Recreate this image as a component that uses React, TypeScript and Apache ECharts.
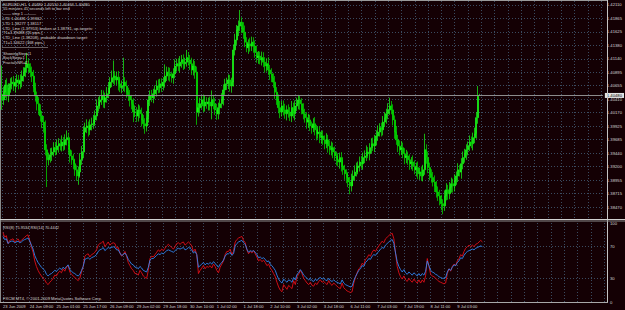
import React, { useEffect, useRef } from 'react';
import * as echarts from 'echarts';

// ---- data (EURUSD H1) ----
const firstOpen = 1.4050;
const closes = [
  1.4040,1.4054,1.4067,1.4047,1.4062,1.4069,1.4072,1.4065,1.4071,1.4076,1.4069,1.4074,1.4083,1.4090,1.4098,1.4105,
  1.4098,1.4090,1.4083,1.4062,1.4047,1.4033,1.4022,1.4011,1.4000,1.3990,1.3950,1.3932,1.3936,1.3941,1.3946,1.3954,
  1.3950,1.3957,1.3961,1.3957,1.3964,1.3959,1.3968,1.3972,1.3950,1.3939,1.3932,1.3925,1.3914,1.3903,1.3910,1.3932,
  1.3946,1.3982,1.3990,1.3993,1.3986,1.3995,1.3997,1.4004,1.4011,1.4029,1.4036,1.4040,1.4047,1.4036,1.4044,1.4051,
  1.4062,1.4072,1.4080,1.4083,1.4076,1.4081,1.4069,1.4062,1.4065,1.4072,1.4065,1.4054,1.4047,1.4040,1.4033,1.4018,
  1.4018,1.4011,1.4022,1.4015,1.4004,1.3997,1.3993,1.4008,1.4040,1.4047,1.4044,1.4051,1.4058,1.4065,1.4062,1.4069,
  1.4065,1.4072,1.4083,1.4090,1.4087,1.4083,1.4080,1.4087,1.4101,1.4105,1.4101,1.4108,1.4112,1.4105,1.4108,1.4116,
  1.4112,1.4105,1.4094,1.4101,1.4090,1.4018,1.4026,1.4033,1.4040,1.4029,1.4036,1.4033,1.4036,1.4029,1.4040,1.4033,
  1.4022,1.4015,1.4026,1.4033,1.4040,1.4058,1.4069,1.4069,1.4076,1.4065,1.4072,1.4130,1.4148,1.4166,1.4173,1.4180,
  1.4170,1.4162,1.4144,1.4134,1.4141,1.4137,1.4144,1.4137,1.4126,1.4116,1.4119,1.4112,1.4116,1.4108,1.4101,1.4105,
  1.4094,1.4087,1.4080,1.4072,1.4054,1.4040,1.4026,1.4018,1.4029,1.4022,1.4015,1.4022,1.4018,1.4011,1.4026,1.4015,
  1.4029,1.4033,1.4040,1.4033,1.4022,1.4015,1.4008,1.4000,1.4004,1.3993,1.3990,1.3997,1.3986,1.3979,1.3982,1.3972,
  1.3975,1.3968,1.3961,1.3968,1.3957,1.3950,1.3954,1.3946,1.3939,1.3932,1.3928,1.3936,1.3921,1.3914,1.3907,1.3900,
  1.3892,1.3885,1.3896,1.3903,1.3910,1.3918,1.3921,1.3928,1.3925,1.3936,1.3939,1.3946,1.3943,1.3954,1.3961,1.3957,
  1.3968,1.3975,1.3982,1.3990,1.3986,1.4000,1.4008,1.4015,1.4022,1.4029,1.4022,1.4004,1.3982,1.3968,1.3957,1.3950,
  1.3954,1.3943,1.3936,1.3939,1.3932,1.3925,1.3928,1.3921,1.3914,1.3918,1.3907,1.3910,1.3903,1.3914,1.3950,1.3936,
  1.3918,1.3907,1.3900,1.3892,1.3885,1.3874,1.3867,1.3860,1.3853,1.3849,1.3867,1.3878,1.3871,1.3882,1.3889,1.3885,
  1.3896,1.3903,1.3914,1.3910,1.3925,1.3936,1.3943,1.3950,1.3957,1.3964,1.3961,1.3972,1.3979,1.4008,1.4048,1.4048,
];
const upperWickPips = [
  52,10,9,12,8,10,9,11,8,10,9,12,10,9,11,20,
  9,8,10,11,9,8,12,10,9,11,13,10,9,12,8,10,
  9,11,10,8,12,9,10,13,9,8,10,11,9,8,10,12,
  11,10,9,12,8,10,11,9,10,12,9,8,11,10,9,12,
  10,9,13,28,9,10,11,9,10,44,9,10,8,11,9,10,
  12,9,10,8,11,9,10,12,9,10,11,9,8,10,12,9,
  10,9,21,10,9,11,8,10,12,9,10,11,9,10,8,14,
  10,9,11,12,9,10,8,11,9,10,12,9,8,10,17,9,
  10,11,9,8,12,10,9,11,10,9,8,10,11,9,10,22,
  9,10,12,9,8,11,10,9,10,12,9,8,11,10,9,10,
  12,9,10,8,11,9,10,12,9,10,11,8,10,9,12,9,
  10,11,9,8,10,12,9,10,11,9,8,10,12,9,10,11,
  9,10,8,12,9,10,11,9,10,8,12,9,10,11,9,8,
  10,9,11,10,12,9,8,10,11,9,10,12,9,8,10,11,
  9,10,12,8,9,11,10,9,12,15,9,10,8,11,9,10,
  12,9,10,11,8,10,9,12,10,9,11,8,10,9,29,10,
  11,9,8,10,12,9,10,11,9,8,10,12,9,10,11,9,
  10,8,12,9,10,11,9,10,8,12,10,9,11,10,17,3,
];
const lowerWickPips = [
  18,9,10,8,11,9,10,9,12,8,10,9,11,10,9,8,
  10,9,11,8,10,12,9,10,11,9,10,49,10,9,11,8,
  10,9,12,8,10,11,9,10,8,12,9,10,11,9,16,10,
  9,11,8,10,12,9,10,9,11,8,10,12,9,10,11,9,
  8,10,9,11,10,9,12,8,10,9,11,10,9,12,10,18,
  9,11,10,8,12,9,14,10,9,11,8,10,9,12,10,9,
  11,8,10,9,12,10,9,11,8,10,9,12,10,11,9,8,
  10,11,9,10,12,23,8,10,9,11,10,9,12,8,24,10,
  9,11,10,12,8,10,9,11,9,10,12,8,10,9,11,9,
  10,12,9,8,11,10,9,12,10,9,11,8,10,9,12,10,
  9,11,8,10,12,9,10,11,8,10,9,12,10,9,11,8,
  12,9,10,11,8,10,9,12,10,9,11,8,10,12,9,10,
  11,9,10,8,12,9,10,11,9,10,8,12,10,9,11,10,
  9,15,10,11,9,8,12,10,9,11,10,9,8,12,10,9,
  11,10,9,8,12,10,9,11,10,9,8,10,12,9,11,10,
  9,8,12,10,9,11,10,9,8,12,10,11,9,10,9,11,
  10,12,9,8,11,10,9,10,12,15,9,8,11,10,9,12,
  10,9,11,8,12,10,9,11,10,9,8,12,10,9,11,1,
];
const rsi8 = [
  88,82,84,74,78,79,80,76,78,80,76,78,80,82,84,85,
  78,70,63,52,45,40,36,33,30,28,24,22,25,27,30,34,
  33,37,39,37,42,39,44,46,38,35,33,31,29,27,30,38,
  45,58,60,61,57,60,61,63,66,72,74,75,77,70,73,76,
  72,74,75,74,68,69,62,58,60,64,58,50,46,42,40,36,
  36,34,40,37,33,31,30,40,55,58,57,60,63,66,64,67,
  65,68,71,73,71,69,67,70,74,75,73,75,76,72,74,76,
  74,71,64,67,60,36,40,43,46,42,45,44,46,43,48,45,
  40,37,44,48,52,60,64,64,67,60,64,76,79,81,82,83,
  78,75,66,61,64,62,65,61,57,52,54,51,53,50,46,48,
  43,40,36,32,25,19,15,13,22,19,16,21,19,17,27,22,
  32,35,40,36,30,27,24,22,25,21,20,24,22,26,28,25,
  26,24,22,27,23,21,24,22,20,18,17,24,18,16,14,13,
  12,13,24,31,37,42,44,49,47,54,56,60,58,63,66,64,
  68,71,74,77,75,80,82,84,86,87,80,62,45,37,32,29,
  33,28,26,30,27,25,29,26,24,28,24,28,25,33,55,45,
  35,33,32,30,28,26,25,24,23,24,36,42,39,45,48,46,
  52,55,60,58,64,68,70,72,70,72,70,73,74,76,78,76,
];
const rsi14 = [
  83,79,80,74,76,77,77,75,76,77,75,76,78,79,80,81,
  77,72,67,59,54,50,47,44,42,40,35,33,35,36,38,40,
  39,41,43,41,44,42,45,47,41,39,37,36,34,33,35,40,
  45,54,55,56,54,56,57,58,60,64,66,67,69,65,67,69,
  68,69,70,69,66,66,62,59,60,62,59,54,51,48,47,44,
  44,42,45,43,40,39,38,44,53,55,55,57,59,61,60,62,
  61,63,65,66,65,64,63,65,67,68,67,68,69,66,67,69,
  68,66,62,64,60,44,46,48,50,47,49,48,50,48,51,49,
  46,44,48,50,53,58,61,61,63,59,61,71,74,76,77,78,
  75,73,67,63,65,64,65,63,60,56,57,55,56,54,51,52,
  48,46,43,40,34,29,26,24,29,27,25,28,27,25,31,28,
  35,37,41,38,34,32,30,28,30,27,26,29,27,30,31,29,
  30,28,27,30,27,26,28,26,25,24,23,28,24,22,21,20,
  19,20,27,32,36,40,42,46,45,50,52,55,54,58,60,59,
  62,64,67,69,68,72,74,76,78,79,74,62,51,45,41,38,
  41,37,35,38,36,34,37,35,33,36,33,36,34,39,52,46,
  40,38,37,35,34,32,31,30,30,31,38,42,40,44,47,46,
  50,52,56,55,59,62,64,65,66,67,66,68,69,70,71,70,
];
const timeLabels = [
  '23 Jun 2009','24 Jun 09:00','25 Jun 01:00','25 Jun 17:00','26 Jun 09:00','29 Jun 02:00',
  '29 Jun 18:00','30 Jun 10:00','1 Jul 02:00','1 Jul 18:00','2 Jul 10:00','3 Jul 02:00',
  '3 Jul 18:00','6 Jul 11:00','7 Jul 03:00','7 Jul 19:00','8 Jul 11:00','9 Jul 03:00',
];
const priceTicks = [
  1.42110,1.41865,1.41625,1.41380,1.41140,1.40895,1.40655,1.40410,
  1.40170,1.39925,1.39685,1.39440,1.39200,1.38955,1.38715,1.38470,
];
const rsiLevels = [30, 70];
const rsiTicks = [0, 30, 70, 100];
const bidPrice = 1.4048;
const headerLines = [
  'EURUSD,H1  1.40480 1.40510 1.40466 1.40480',
  '55 minutes 45 seconds left to bar end',
  '—— step 1 ———',
  'LTD 1.40481 1.39362',
  'LTD 1.38277 1.38117',
  'LTD_Line (1.37953) broken at 1.38781, up-targets:',
  'T1=1.39488 (55 pips.)',
  'LTD_Line (1.38208), probable drawdown target:',
  'T1=1.34622 (368 pips.)',
];
const footerLines = ['ShowingStep=1', 'BackStep=1', 'FractalsNR=2'];
const rsiTitle = 'RSI(8) 75.9534 RSI(14) 70.4442';
const copyright = 'FXCM MT4, © 2001-2009 MetaQuotes Software Corp.';
const slotCount = 362;
const barsPerLabel = 16;
const barsPerGridLine = 8;

const FONT = 'Liberation Sans, Arial, sans-serif';
const TXT = '#d4d4d4';
const GRIDC = '#3a4b60';
const BG = '#140004';

export default function App() {
  const ref = useRef<HTMLDivElement>(null);
  useEffect(() => {
    document.body.style.margin = '0';
    if (!ref.current) return;
    const chart = echarts.init(ref.current, undefined, { renderer: 'svg' });

    const candles = closes.map((c, i) => {
      const o = i === 0 ? firstOpen : closes[i - 1];
      const hi = Math.max(o, c) + upperWickPips[i] * 0.0001;
      const lo = Math.min(o, c) - lowerWickPips[i] * 0.0001;
      return [o, c, lo, hi];
    });
    const cats = Array.from({ length: slotCount }, (_, i) => String(i));
    const labelFmt = (_v: string, idx: number) =>
      idx % barsPerLabel === 0 ? timeLabels[idx / barsPerLabel] ?? '' : '';
    const gridLine = { show: true, lineStyle: { color: GRIDC, type: [1, 2], width: 1 } };

    const graphics: any[] = [];
    const txt = (x: number, y: number, t: string, size: number) => ({
      type: 'text', x, y, z: 50,
      style: { text: t, fill: TXT, font: `${size}px ${FONT}`, verticalAlign: 'middle', textVerticalAlign: 'middle' },
    });
    headerLines.forEach((t, k) => graphics.push(txt(3, 4 + k * 4.8, t, 4)));
    graphics.push({ type: 'line', z: 50, shape: { x1: 2, y1: 47.5, x2: 48, y2: 47.5 }, style: { stroke: '#a0a0a0', lineWidth: 0.6 } });
    footerLines.forEach((t, k) => graphics.push(txt(3, 53 + k * 4.8, t, 4)));
    graphics.push(txt(3, 227, rsiTitle, 3.9));
    graphics.push(txt(3, 298, copyright, 4.1));
    const ln = (x1: number, y1: number, x2: number, y2: number, c: string, w = 1) =>
      ({ type: 'line', z: 60, shape: { x1, y1, x2, y2 }, style: { stroke: c, lineWidth: w } });
    graphics.push(ln(0, 0.5, 608, 0.5, '#9a9a9a'));
    graphics.push(ln(0.5, 0, 0.5, 303, '#8a8a8a'));
    graphics.push(ln(607.5, 0, 607.5, 303, '#c4c4c4'));
    graphics.push(ln(0, 219.5, 625, 219.5, '#d0d0d0'));
    graphics.push(ln(0, 221, 625, 221, '#8c8c8c'));
    graphics.push(ln(0, 302.5, 608, 302.5, '#a8a8a8'));

    chart.setOption({
      animation: false,
      backgroundColor: BG,
      grid: [
        { left: 2, top: 1, width: 604, height: 218 },
        { left: 2, top: 223, width: 604, height: 79 },
      ],
      xAxis: [
        { type: 'category', gridIndex: 0, data: cats, boundaryGap: false,
          axisLine: { show: false }, axisTick: { show: false }, axisLabel: { show: false },
          splitLine: { ...gridLine, interval: barsPerGridLine - 1 } },
        { type: 'category', gridIndex: 1, data: cats, boundaryGap: false,
          axisLine: { show: false }, axisTick: { show: false },
          axisLabel: { show: true, interval: barsPerLabel - 1, formatter: labelFmt, color: TXT,
            fontSize: 4.1, fontFamily: FONT, align: 'left', margin: 2.5 },
          splitLine: { ...gridLine, interval: barsPerGridLine - 1 } },
      ],
      yAxis: [
        { type: 'value', gridIndex: 0, position: 'right', min: 1.38254, max: 1.42182,
          axisLine: { show: false }, axisTick: { show: false, customValues: priceTicks },
          axisLabel: { show: true, customValues: priceTicks, formatter: (v: number) => v.toFixed(5),
            color: TXT, fontSize: 4.2, fontFamily: FONT, margin: 4 },
          splitLine: gridLine },
        { type: 'value', gridIndex: 1, position: 'right', min: 0, max: 100,
          axisLine: { show: false }, axisTick: { show: false, customValues: rsiLevels },
          axisLabel: { show: true, customValues: rsiTicks, formatter: (v: number) => String(v),
            color: TXT, fontSize: 4.2, fontFamily: FONT, margin: 4 },
          splitLine: gridLine },
      ],
      series: [
        { type: 'candlestick', xAxisIndex: 0, yAxisIndex: 0, data: candles, barWidth: 1.5,
          itemStyle: { color: '#19ff19', color0: '#00e600', borderColor: '#19ff19', borderColor0: '#00e600', borderWidth: 0.7 } },
        { type: 'line', name: 'bid', xAxisIndex: 0, yAxisIndex: 0, data: [], symbol: 'none',
          markLine: { silent: true, symbol: 'none', animation: false, precision: 5,
            data: [{ yAxis: bidPrice }],
            lineStyle: { color: '#8c8c8c', type: 'solid', width: 1 },
            label: { show: true, position: 'end', formatter: bidPrice.toFixed(5), color: '#000',
              backgroundColor: '#e4e4e4', padding: [0.5, 2], fontSize: 4.2, fontFamily: FONT, distance: 2 } } },
        { type: 'line', xAxisIndex: 1, yAxisIndex: 1, data: rsi8, symbol: 'none', showSymbol: false,
          lineStyle: { color: '#e0101a', width: 0.9 } },
        { type: 'line', xAxisIndex: 1, yAxisIndex: 1, data: rsi14, symbol: 'none', showSymbol: false,
          lineStyle: { color: '#2f86f0', width: 0.9 } },
      ],
      graphic: graphics,
    });
    return () => chart.dispose();
  }, []);
  return <div ref={ref} style={{ width: 625, height: 310, background: BG }} />;
}
